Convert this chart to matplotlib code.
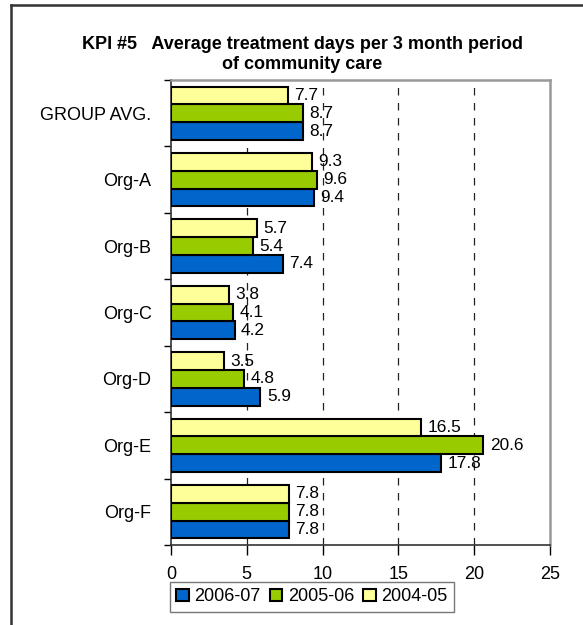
import matplotlib
matplotlib.use("Agg")
import matplotlib.pyplot as plt
import numpy as np
from matplotlib.lines import Line2D
from matplotlib.patches import Patch

plt.rcParams['font.family'] = ['Liberation Sans', 'DejaVu Sans']

categories = ["GROUP AVG.", "Org-A", "Org-B", "Org-C", "Org-D", "Org-E", "Org-F"]
series_names = ["2006-07", "2005-06", "2004-05"]
v_2006_07 = [8.7, 9.4, 7.4, 4.2, 5.9, 17.8, 7.8]
v_2005_06 = [8.7, 9.6, 5.4, 4.1, 4.8, 20.6, 7.8]
v_2004_05 = [7.7, 9.3, 5.7, 3.8, 3.5, 16.5, 7.8]
colors = ["#0066CC", "#99CC00", "#FFFF99"]
title = "KPI #5   Average treatment days per 3 month period\nof community care"
xticks = [0, 5, 10, 15, 20, 25]

W, H = 583, 625
fig = plt.figure(figsize=(W/100, H/100), dpi=100)
ax = fig.add_axes([171/W, 1-545/H, (550-171)/W, (545-80)/H])

n = len(categories)
y = np.arange(n)
bh = 0.268
offsets = [bh, 0.0, -bh]  # axis inverted: 2004-05 on top, 2006-07 at bottom
for vals, c, off in zip([v_2006_07, v_2005_06, v_2004_05], colors, offsets):
    bars = ax.barh(y + off, vals, height=bh, color=c, edgecolor='black', linewidth=1.5, zorder=3)
    for b, v in zip(bars, vals):
        ax.text(b.get_width() + 0.42, b.get_y() + b.get_height()/2, f"{v:.1f}",
                va='center', ha='left', fontsize=12.4, zorder=4)

ax.set_ylim(n - 0.5, -0.5)
ax.set_xlim(0, 25)
ax.set_xticks(xticks)
ax.set_xticklabels([str(t) for t in xticks], fontsize=13)
ax.set_yticks(y)
ax.set_yticklabels(categories, fontsize=13)
ax.tick_params(axis='y', length=0, pad=14)
ax.set_yticks(np.arange(n + 1) - 0.5, minor=True)
ax.tick_params(axis='y', which='minor', length=5, width=1, direction='out')
ax.tick_params(axis='x', length=7, width=1, direction='out', pad=8)

for xv in xticks[1:-1]:
    ax.axvline(xv, color='#222222', linestyle=(0, (6, 6)), linewidth=0.9, zorder=1)

for s in ['top', 'right']:
    ax.spines[s].set_color('#999999')
    ax.spines[s].set_linewidth(1.8)
for s in ['left', 'bottom']:
    ax.spines[s].set_color('#333333')
    ax.spines[s].set_linewidth(1.2)

fig.text(302.5/W, 1-54.5/H, title, ha='center', va='center', fontsize=13,
         fontweight='bold', linespacing=1.3)

handles = [Patch(facecolor=c, edgecolor='black', linewidth=1.5) for c in colors]
leg = fig.legend(handles, series_names, loc='upper left',
                 bbox_to_anchor=(170/W, 1-582/H), ncol=3, fontsize=13,
                 frameon=True, fancybox=False, handlelength=0.7, handleheight=0.7,
                 handletextpad=0.3, columnspacing=0.5, borderpad=0.35, borderaxespad=0)
leg.get_frame().set_edgecolor('#555555')
leg.get_frame().set_linewidth(1.0)

fig.add_artist(Line2D([11/W, 1], [1-5/H, 1-5/H], color='#333333', linewidth=1.8, transform=fig.transFigure))
fig.add_artist(Line2D([11/W, 11/W], [0, 1-5/H], color='#333333', linewidth=1.8, transform=fig.transFigure))

fig.savefig("out.png", dpi=100)
